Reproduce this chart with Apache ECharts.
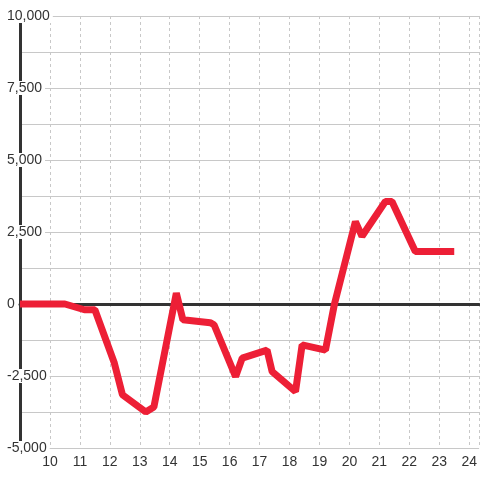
<!DOCTYPE html>
<html><head><meta charset="utf-8">
<script src="https://cdn.jsdelivr.net/npm/echarts@6/dist/echarts.min.js"></script>
<style>html,body{margin:0;padding:0;background:#fff}#c{width:480px;height:480px}</style>
</head><body><div id="c"></div>
<script>
const xValues = [9, 10.5, 11.15, 11.5, 12.15, 12.42, 13.2, 13.47, 14.22, 14.44, 15.35, 15.48, 16.2, 16.42, 17.25, 17.42, 18.2, 18.42, 19.2, 19.5, 20.2, 20.42, 21.2, 21.42, 22.2, 23.5];
const yValues = [0, 0, -200, -200, -2050, -3150, -3750, -3580, 380, -550, -650, -720, -2520, -1880, -1600, -2350, -3040, -1420, -1600, 0, 2860, 2350, 3560, 3560, 1820, 1820];
const yTicks = [-5000, -2500, 0, 2500, 5000, 7500, 10000];
const xTicks = [10, 11, 12, 13, 14, 15, 16, 17, 18, 19, 20, 21, 22, 23, 24];

const data = xValues.map((x, i) => [x, yValues[i]]);
const chart = echarts.init(document.getElementById('c'));
const fontFamily = '"Liberation Sans", Arial, sans-serif';
chart.setOption({
  backgroundColor: '#fff',
  animation: false,
  grid: { left: 20, right: 0, top: 16, bottom: 32 },
  xAxis: [
    {
      type: 'value', position: 'top', min: 9, max: 24.33, interval: 1,
      axisLine: { show: true, onZero: true, lineStyle: { color: '#333', width: 3 } },
      axisTick: { show: false }, axisLabel: { show: false },
      splitLine: { show: true, lineStyle: { color: '#c8c8c8', type: [3, 3], width: 1 } }
    },
    {
      type: 'value', position: 'bottom', min: 9, max: 24.33, interval: 1,
      axisLine: { show: false }, axisTick: { show: false },
      splitLine: { show: false },
      axisLabel: {
        show: true, margin: 7, fontSize: 14, color: '#333', fontFamily,
        showMinLabel: false, showMaxLabel: false,
        formatter: v => xTicks.includes(v) ? String(v) : ''
      }
    }
  ],
  yAxis: {
    type: 'value', min: yTicks[0], max: yTicks[yTicks.length - 1], interval: 2500,
    axisLine: { show: true, lineStyle: { color: '#333', width: 3 } },
    axisTick: { show: false },
    minorTick: { show: false, splitNumber: 2 },
    splitLine: { show: true, lineStyle: { color: '#c8c8c8', width: 1 } },
    minorSplitLine: { show: true, lineStyle: { color: '#c8c8c8', width: 1 } },
    axisLabel: {
      align: 'left', margin: 16, fontSize: 14, color: '#333', fontFamily,
      backgroundColor: '#fff', padding: [0, 3],
      formatter: v => v.toLocaleString('en-US')
    }
  },
  series: [{
    type: 'line', data, symbol: 'none', xAxisIndex: 0,
    lineStyle: { color: '#ed1f36', width: 7, join: 'bevel' },
    clip: false
  }]
});
</script></body></html>
